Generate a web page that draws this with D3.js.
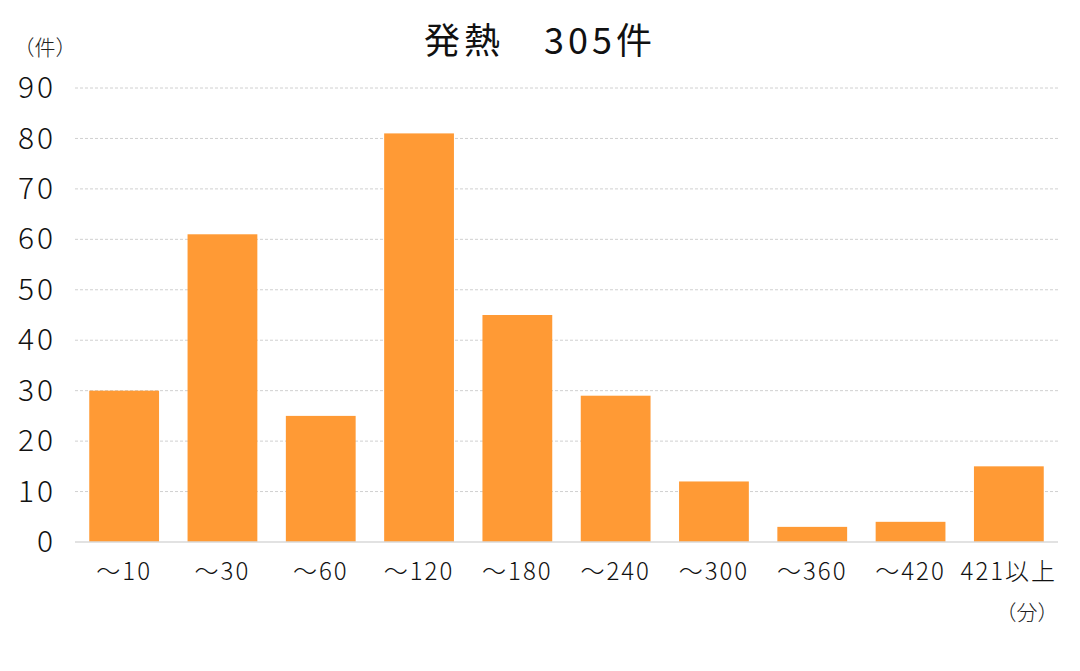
<!DOCTYPE html>
<html>
<head>
<meta charset="utf-8">
<script src="https://cdn.jsdelivr.net/npm/d3@7"></script>
<style>
  body { margin: 0; background: #fff; }
  svg { display: block; font-family: 'Noto Sans CJK JP', 'Noto Sans', sans-serif; }
</style>
</head>
<body>
<svg id="chart" width="1080" height="671"></svg>
<script>
const categories = ['～10', '～30', '～60', '～120', '～180', '～240', '～300', '～360', '～420', '421以上']
const counts = [30, 61, 25, 81, 45, 29, 12, 3, 4, 15]
const yTicks = [0, 10, 20, 30, 40, 50, 60, 70, 80, 90]

const svg = d3.select('#chart')
const plotLeft = 75
const plotRight = 1058
const plotTop = 88
const plotBottom = 542

const x = d3.scaleBand().domain(categories).range([plotLeft, plotRight]).paddingInner(0.29).paddingOuter(0.145)
const y = d3.scaleLinear().domain([0, 90]).range([plotBottom, plotTop])

// grid lines
svg.append('g')
  .selectAll('line')
  .data(yTicks.filter(d => d > 0))
  .join('line')
  .attr('x1', plotLeft).attr('x2', plotRight)
  .attr('y1', d => y(d)).attr('y2', d => y(d))
  .attr('stroke', '#d0d0d0')
  .attr('stroke-width', 1)
  .attr('stroke-dasharray', '3,2')

// bars
svg.append('g')
  .selectAll('rect')
  .data(counts)
  .join('rect')
  .attr('x', (d, i) => x(categories[i]))
  .attr('width', x.bandwidth())
  .attr('y', d => y(d))
  .attr('height', d => y(0) - y(d))
  .attr('fill', '#ff9a35')

// baseline
svg.append('line')
  .attr('x1', plotLeft).attr('x2', plotRight)
  .attr('y1', y(0)).attr('y2', y(0))
  .attr('stroke', '#d9d9d9')
  .attr('stroke-width', 1.5)

// y axis labels
const yAxis = svg.append('g')
  .attr('transform', `translate(${plotLeft - 19},0)`)
  .call(d3.axisLeft(y).tickValues(yTicks).tickSize(0).tickPadding(0))
yAxis.select('.domain').remove()
yAxis.selectAll('text')
  .attr('font-size', 30)
  .attr('font-weight', 300)
  .attr('letter-spacing', 3)
  .attr('fill', '#111')
  .attr('font-family', "'Noto Sans CJK JP', sans-serif")

// x axis labels
const xAxis = svg.append('g')
  .attr('transform', `translate(0,${plotBottom + 21})`)
  .call(d3.axisBottom(x).tickSize(0).tickPadding(0))
xAxis.select('.domain').remove()
xAxis.selectAll('text')
  .attr('font-size', 24)
  .attr('font-weight', 300)
  .attr('letter-spacing', 2)
  .attr('fill', '#111')
  .attr('font-family', "'Noto Sans CJK JP', sans-serif")

// title
svg.append('text')
  .attr('x', 540).attr('y', 54)
  .attr('text-anchor', 'middle')
  .attr('font-size', 36)
  .attr('letter-spacing', 4)
  .attr('fill', '#111')
  .text('発熱　305件')

// unit labels
svg.append('text')
  .attr('x', 45).attr('y', 55)
  .attr('text-anchor', 'middle')
  .attr('font-size', 21)
  .attr('font-weight', 300)
  .attr('fill', '#222')
  .text('（件）')

svg.append('text')
  .attr('x', 1027).attr('y', 620)
  .attr('text-anchor', 'middle')
  .attr('font-size', 21)
  .attr('font-weight', 300)
  .attr('fill', '#222')
  .text('（分）')
</script>
</body>
</html>
